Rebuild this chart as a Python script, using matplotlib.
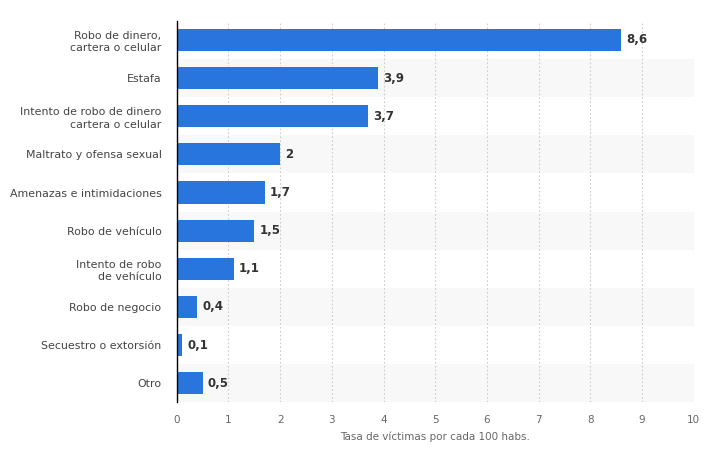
import numpy as np
import matplotlib.pyplot as plt

# Data
categories = ['Robo de dinero,\ncartera o celular', 'Estafa',
              'Intento de robo de dinero\ncartera o celular',
              'Maltrato y ofensa sexual', 'Amenazas e intimidaciones',
              'Robo de vehículo', 'Intento de robo\nde vehículo',
              'Robo de negocio', 'Secuestro o extorsión', 'Otro']
values = [8.6, 3.9, 3.7, 2.0, 1.7, 1.5, 1.1, 0.4, 0.1, 0.5]
value_labels = ['8,6', '3,9', '3,7', '2', '1,7', '1,5', '1,1', '0,4', '0,1', '0,5']

fig = plt.figure(figsize=(7.10, 4.63), dpi=100)
ax = fig.add_axes([0.249, 0.131, 0.728, 0.824])

y = np.arange(len(categories))

# alternating background bands
for i in y:
    if i % 2 == 1:
        ax.axhspan(i - 0.5, i + 0.5, color='#f8f8f8', zorder=0, lw=0)

ax.barh(y, values, height=0.58, color='#2876dd', zorder=3)
for yi, v, lab in zip(y, values, value_labels):
    ax.text(v + 0.1, yi, lab, va='center', ha='left', fontsize=8.5,
            fontweight='bold', color='#333333', zorder=4)

ax.set_xlim(0, 10)
ax.set_ylim(len(categories) - 0.5, -0.5)
ax.set_xticks(range(0, 11))
ax.set_yticks(y)
ax.set_yticklabels(categories, fontsize=7.9, color='#444444', linespacing=1.3)
ax.tick_params(axis='x', labelsize=7.5, colors='#666666', length=0, pad=9)
ax.tick_params(axis='y', length=0, pad=11)
ax.xaxis.grid(True, linestyle=(0, (1.5, 2)), color='#cccccc', lw=0.8, zorder=1)
ax.set_axisbelow(True)

for s in ['top', 'right', 'bottom']:
    ax.spines[s].set_visible(False)
ax.spines['left'].set_color('#000000')
ax.spines['left'].set_linewidth(1)
ax.spines['left'].set_zorder(5)

ax.set_xlabel('Tasa de víctimas por cada 100 habs.', fontsize=7.5, color='#666666', labelpad=5)

fig.savefig('out.png', dpi=100)
